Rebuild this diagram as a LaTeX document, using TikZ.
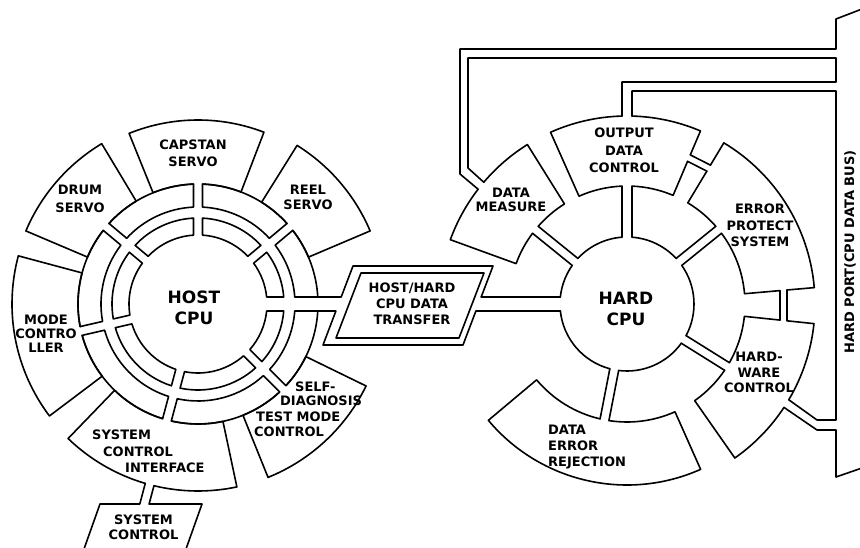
\documentclass[tikz,border=0pt]{standalone}
\usepackage{tikz}
\usepackage{fontspec}
\setmainfont{DejaVu Sans}
\pgfmathdeclarefunction{dd}{2}{\pgfmathparse{asin(#1/#2)}}
% ring segment: channel angles #1,#3 with half widths #2,#4, radii #5..#6
\newcommand\rseg[6]{%
 \draw[ln] ({#1+dd(#2,#5)}:#5) -- ({#1+dd(#2,#6)}:#6)
 arc[start angle={#1+dd(#2,#6)}, end angle={#3-dd(#4,#6)}, radius=#6]
 -- ({#3-dd(#4,#5)}:#5)
 arc[start angle={#3-dd(#4,#5)}, end angle={#1+dd(#2,#5)}, radius=#5] -- cycle;}
% block: angles #1..#2, radii #3..#4, inner opening at #5 (half width #6)
\newcommand\blk[6]{%
 \draw[ln] ({#5+dd(#6,#3)}:#3) arc[start angle={#5+dd(#6,#3)}, end angle=#2, radius=#3]
 -- (#2:#4) arc[start angle=#2, end angle=#1, radius=#4]
 -- (#1:#3) arc[start angle=#1, end angle={#5-dd(#6,#3)}, radius=#3];}
% block with an outer opening at #7 as well
\newcommand\blko[7]{%
 \draw[ln] ({#5+dd(#6,#3)}:#3) arc[start angle={#5+dd(#6,#3)}, end angle=#2, radius=#3]
 -- (#2:#4) arc[start angle=#2, end angle={#7+dd(#6,#4)}, radius=#4];
 \draw[ln] ({#7-dd(#6,#4)}:#4) arc[start angle={#7-dd(#6,#4)}, end angle=#1, radius=#4]
 -- (#1:#3) arc[start angle=#1, end angle={#5-dd(#6,#3)}, radius=#3];}
\begin{document}
\begin{tikzpicture}[x=1pt,y=1pt,
 ln/.style={line width=1.6pt, line join=round, line cap=round},
 lab/.style={font=\bfseries\fontsize{13}{#1}\selectfont, inner sep=0pt, align=center},
 lab/.default=16.5,
 big/.style={font=\bfseries\fontsize{17}{21}\selectfont, inner sep=0pt, align=center}]
\useasboundingbox (0,0) rectangle (860,547);
\clip (0,0) rectangle (860,547);

% ---------------- HOST CPU ----------------
\begin{scope}[shift={(198,243)}]
 \foreach \pa/\wa/\pb/\wb in {0/7/40/4.5, 40/4.5/90/4.5, 90/4.5/140/4.5, 140/4.5/193/4.5,
   193/4.5/255/4.5, 255/4.5/315/4.5, 315/4.5/360/7}{
  \rseg{\pa}{\wa}{\pb}{\wb}{69}{86}
  \rseg{\pa}{\wa}{\pb}{\wb}{97}{120}
 }
 \blk{23}{58}{120}{187}{40}{4.5}    % reel
 \blk{69}{112}{120}{184}{90}{4.5}   % capstan
 \blk{121}{157}{120}{187}{140}{4.5} % drum
 \blk{165}{217}{120}{186}{193}{4.5} % mode
 \blko{226}{282}{120}{187}{255}{4.5}{255} % system control interface
 \blk{292}{334}{120}{187}{315}{4.5} % self diagnosis
 \coordinate (hcU) at ({dd(7,120)}:120);
 \coordinate (hcD) at ({-dd(7,120)}:120);
 \coordinate (sA) at ({255-dd(4.5,187)}:187);
 \coordinate (sB) at ({255+dd(4.5,187)}:187);
\end{scope}

% system control box
\coordinate (bxL) at (139.8,43);
\coordinate (bxR) at (149.1,43);
\draw[ln] (sA) -- (bxL) -- (100,43) -- (84,-2);
\draw[ln] (sB) -- (bxR) -- (202,43) -- (186,-2);

% ---------------- TRANSFER ----------------
\coordinate (pLu) at (341.2,250);
\coordinate (pLd) at (335.9,236);
\coordinate (pRu) at (481.2,250);
\coordinate (pRd) at (475.9,236);
\draw[ln] (hcU) -- (pLu) -- (353,281) -- (493,281) -- (pRu);
\draw[ln] (hcD) -- (pLd) -- (323,202) -- (463,202) -- (pRd);
\draw[ln] (361,274) -- (484,274) -- (459,209) -- (336,209) -- cycle;

% ---------------- HARD CPU ----------------
\begin{scope}[shift={(627,243)}]
 \foreach \pa/\wa/\pb/\wb in {90/5/141/4.5, 141/4.5/180/7, 180/7/259/4.5, 259/4.5/328/4.5,
   328/4.5/399/4.5, 39/4.5/90/5}{
  \draw[ln] ({\pa+dd(\wa,67)}:67) arc[start angle={\pa+dd(\wa,67)}, end angle={\pb-dd(\wb,67)}, radius=67];
 }
 \foreach \c/\w in {90/5, 141/4.5, 259/4.5, 328/4.5, 39/4.5}{
  \draw[ln] ({\c+dd(\w,67)}:67) -- ({\c+dd(\w,118)}:118);
  \draw[ln] ({\c-dd(\w,67)}:67) -- ({\c-dd(\w,118)}:118);
 }
 \coordinate (hdU) at ({180-dd(7,67)}:67);
 \coordinate (hdD) at ({180+dd(7,67)}:67);
 % data measure
 \blko{122}{160}{118}{188}{141}{4.5}{141}
 \coordinate (dmA) at ({141+dd(4.5,188)}:188);
 \coordinate (dmB) at ({141-dd(4.5,188)}:188);
 % output data control
 \draw[ln] ({90+dd(5,118)}:118) arc[start angle={90+dd(5,118)}, end angle=114, radius=118]
   -- (114:188) arc[start angle=114, end angle={90+dd(5,188)}, radius=188];
 \draw[ln] ({90-dd(5,188)}:188) arc[start angle={90-dd(5,188)}, end angle=67, radius=188]
   -- (67:162) (67:155) -- (67:118) arc[start angle=67, end angle={90-dd(5,118)}, radius=118];
 \coordinate (oL) at ({90+dd(5,188)}:188);
 \coordinate (oR) at ({90-dd(5,188)}:188);
 % output -- error link
 \draw[ln] (67:155) -- (59:155);
 \draw[ln] (67:162) -- (59:162);
 % error protect system
 \draw[ln] ({39+dd(4.5,118)}:118) arc[start angle={39+dd(4.5,118)}, end angle=59, radius=118]
   -- (59:155) (59:162) -- (59:188) arc[start angle=59, end angle=5, radius=188]
   -- (5:160.6) (5:153.6) -- (5:118) arc[start angle=5, end angle={39-dd(4.5,118)}, radius=118];
 % error -- hardware link
 \draw[ln] (5:153.6) -- (354:153.8);
 \draw[ln] (5:160.6) -- (354:160.9);
 % hardware control
 \draw[ln] ({328+dd(4.5,118)}:118) arc[start angle={328+dd(4.5,118)}, end angle=354, radius=118]
   -- (354:153.8) (354:160.9) -- (354:188) arc[start angle=354, end angle={328+dd(4.5,188)}, radius=188];
 \draw[ln] ({328-dd(4.5,188)}:188) arc[start angle={328-dd(4.5,188)}, end angle=305, radius=188]
   -- (305:118) arc[start angle=305, end angle={328-dd(4.5,118)}, radius=118];
 \coordinate (hwA) at ({328+dd(4.5,188)}:188);
 \coordinate (hwB) at ({328-dd(4.5,188)}:188);
 % data error rejection
 \blk{220}{294}{118}{181}{259}{4.5}
\end{scope}

\draw[ln] (hdU) -- (pRu);
\draw[ln] (hdD) -- (pRd);

% ---------------- BUS ----------------
\coordinate (yL3) at (0,465);
\coordinate (yL4) at (0,456);
\draw[ln] (dmA) -- (460,373) -- (460,498) -- (836,498) -- (836,528) -- (862,538);
\draw[ln] (dmB) -- (468,379) -- (468,489) -- (836,489) -- (836,465) -- (oL |- yL3) -- (oL);
\draw[ln] (oR) -- (oR |- yL4) -- (836,456) -- (836,127) -- (817,127) -- (hwA);
\draw[ln] (hwB) -- (817,117) -- (836,117) -- (836,70) -- (862,79);

% ---------------- TEXT ----------------
\node[lab=17] (tcap) at (193,393.5) {CAPSTAN\\SERVO};
\node[lab=18] (tdrum) at (80,348) {DRUM\\SERVO};
\node[lab=15] (treel) at (308,349.5) {REEL\\SERVO};
\node[lab=14] (tmode) at (46,213.5) {MODE\\CONTRO\\LLER};
\node[big] (thost) at (194,239.5) {HOST\\CPU};
\node[lab, anchor=west] (tsd1) at (295,160) {SELF-};
\node[lab, anchor=west] (tsd2) at (280,146) {DIAGNOSIS};
\node[lab, anchor=west] (tsd3) at (256,130) {TEST MODE};
\node[lab, anchor=west] (tsd4) at (254,115) {CONTROL};
\node[lab, anchor=west] (tsc1) at (92,112) {SYSTEM};
\node[lab, anchor=west] (tsc2) at (103,95) {CONTROL};
\node[lab, anchor=west] (tsc3) at (125,79) {INTERFACE};
\node[lab=15] (tsys) at (143.5,19.5) {SYSTEM\\CONTROL};
\node[lab=16] (ttr) at (412,243) {HOST/HARD\\CPU DATA\\TRANSFER};
\node[lab=14] (tdm) at (511,347) {DATA\\MEASURE};
\node[lab=17.5] (tout) at (624,396.5) {OUTPUT\\DATA\\CONTROL};
\node[lab=16.5] (terr) at (760,321.5) {ERROR\\PROTECT\\SYSTEM};
\node[big] (thard) at (626,238.5) {HARD\\CPU};
\node[lab=15.5] (thw) at (759,174.5) {HARD-\\WARE\\CONTROL};
\node[lab=16, align=left, anchor=west] (tder) at (548,100) {DATA\\ERROR\\REJECTION};
\node[lab, rotate=90] (tport) at (850,295) {HARD PORT(CPU DATA BUS)};
\end{tikzpicture}
\end{document}
